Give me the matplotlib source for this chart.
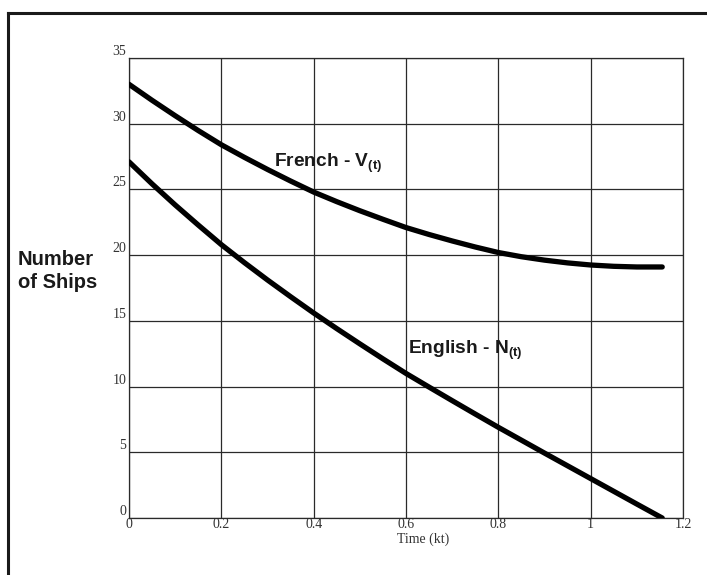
import matplotlib
matplotlib.use('Agg')
import matplotlib.pyplot as plt
from matplotlib.lines import Line2D

plt.rcParams['mathtext.fontset'] = 'custom'
plt.rcParams['mathtext.rm'] = 'Liberation Sans:bold'
plt.rcParams['mathtext.it'] = 'Liberation Sans:bold'
plt.rcParams['mathtext.bf'] = 'Liberation Sans:bold'

# values
time = [0.0, 0.05, 0.1, 0.15, 0.2, 0.25, 0.3, 0.35, 0.4, 0.45, 0.5, 0.55, 0.6,
        0.65, 0.7, 0.75, 0.8, 0.85, 0.9, 0.95, 1.0, 1.05, 1.1, 1.155]
french = [33.0, 31.78, 30.61, 29.48, 28.40, 27.44, 26.52, 25.64, 24.80, 24.07, 23.38, 22.73,
          22.10, 21.57, 21.08, 20.62, 20.20, 19.88, 19.62, 19.41, 19.25, 19.15, 19.10, 19.10]
english = [27.1, 25.42, 23.82, 22.29, 20.80, 19.43, 18.11, 16.84, 15.60, 14.41, 13.25, 12.11,
           11.00, 9.96, 8.93, 7.91, 6.90, 5.92, 4.94, 3.97, 3.00, 2.03, 1.06, 0.0]

x_ticks = [0, 0.2, 0.4, 0.6, 0.8, 1, 1.2]
x_tick_labels = ['0', '0.2', '0.4', '0.6', '0.8', '1', '1.2']
y_ticks = [0, 5, 10, 15, 20, 25, 30, 35]

W, H = 707, 575
fig = plt.figure(figsize=(W / 100, H / 100), dpi=100)
ax = fig.add_axes([129 / W, 1 - 518 / H, (683 - 129) / W, (518 - 58) / H])

ax.plot(time, french, color='black', lw=3.8, solid_capstyle='round', solid_joinstyle='round', zorder=3)
ax.plot(time, english, color='black', lw=3.8, solid_capstyle='round', solid_joinstyle='round', zorder=3)

ax.set_xlim(0, 1.2)
ax.set_ylim(0, 35)
ax.set_xticks(x_ticks)
ax.set_xticklabels(x_tick_labels)
ax.set_yticks(y_ticks)
ax.grid(True, color='#2a2a2a', lw=0.9)
ax.tick_params(length=0, labelsize=10, colors='#333333', labelfontfamily='Liberation Serif')
ax.tick_params(axis='y', pad=2)
ax.tick_params(axis='x', pad=0)
for lbl in ax.get_yticklabels():
    lbl.set_verticalalignment('bottom')
for s in ax.spines.values():
    s.set_color('#2a2a2a')
    s.set_linewidth(0.9)

ax.text(0.315, 26.7, r'French - V$_{(t)}$', fontsize=13.8, fontweight='bold',
        family='Liberation Sans', color='#1a1a1a')
ax.text(0.604, 12.5, r'English - N$_{(t)}$', fontsize=13.8, fontweight='bold',
        family='Liberation Sans', color='#1a1a1a')

fig.text(18 / W, 1 - 271 / H, 'Number\nof Ships', fontsize=14.5, fontweight='bold',
         family='Liberation Sans', color='#1a1a1a', va='center', ha='left', linespacing=1.3)
fig.text(423 / W, 1 - 539 / H, 'Time (kt)', fontsize=10, family='Liberation Serif',
         color='#333333', ha='center', va='center')

# outer frame (cut off at right and bottom)
fig.add_artist(Line2D([8 / W, 8 / W], [1 - 13 / H, -0.1], color='#1a1a1a', lw=2.2,
                      transform=fig.transFigure))
fig.add_artist(Line2D([8 / W, 1.1], [1 - 13 / H, 1 - 13 / H], color='#1a1a1a', lw=2.2,
                      transform=fig.transFigure))

fig.savefig('out.png', dpi=100, facecolor='white')
